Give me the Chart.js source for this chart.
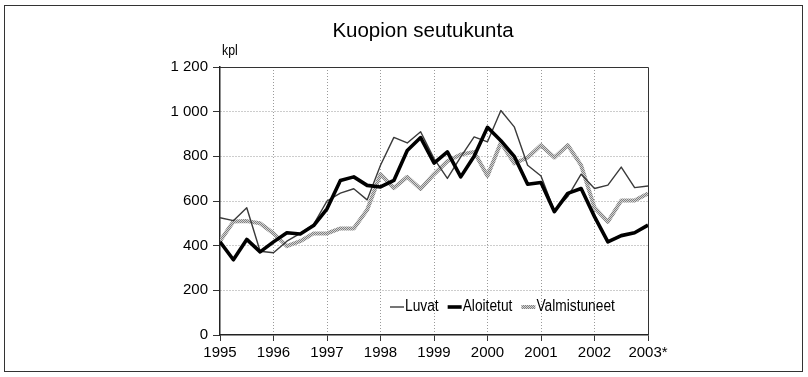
<!DOCTYPE html>
<html>
<head>
<meta charset="utf-8">
<script src="https://cdn.jsdelivr.net/npm/chart.js@4.4.1/dist/chart.umd.min.js"></script>
<style>
  html, body { margin: 0; padding: 0; background: #fff; }
  #wrap { position: relative; width: 808px; height: 377px; }
  #wrap canvas { position: absolute; left: 0; top: 0; }
  #frame { position: absolute; left: 4px; top: 5px; width: 799px; height: 367px; border: 1px solid #333; box-sizing: border-box; pointer-events: none; }
</style>
</head>
<body>
<div id="wrap">
  <canvas id="chart" width="808" height="377"></canvas>
  <div id="frame"></div>
</div>
<script>
const FONT = "'Liberation Sans', Arial, sans-serif";

// quarterly series, 1995 Q1 .. 2003 Q1
const startYear = 1995;
const tickYears = [1995, 1996, 1997, 1998, 1999, 2000, 2001, 2002, 2003];
const luvat = [525, 512, 570, 375, 368, 420, 455, 495, 600, 635, 655, 605, 760, 885, 860, 910,
               790, 701, 798, 887, 865, 1005, 932, 760, 712, 555, 620, 720, 656, 671, 752, 660, 667];
const aloitetut = [417, 337, 428, 372, 417, 458, 452, 490, 565, 692, 708, 670, 663, 692, 826, 884,
                   770, 820, 708, 800, 930, 870, 800, 675, 683, 552, 634, 656, 530, 417, 445, 458, 492];
const valmistuneet = [420, 508, 510, 500, 455, 398, 420, 455, 455, 477, 477, 560, 720, 658, 708, 654,
                      720, 778, 808, 820, 712, 862, 768, 795, 850, 795, 850, 760, 570, 507, 602, 602, 634];

const toPoints = arr => arr.map((v, i) => ({ x: startYear + i / 4, y: v }));

// grainy grey stroke for the completed-dwellings line
function hatch() {
    const c = document.createElement('canvas');
    c.width = 2; c.height = 2;
    const g = c.getContext('2d');
    g.fillStyle = '#d4d4d4'; g.fillRect(0, 0, 2, 2);
    g.fillStyle = '#808080'; g.fillRect(0, 0, 1, 1); g.fillRect(1, 1, 1, 1);
    return document.getElementById('chart').getContext('2d').createPattern(c, 'repeat');
}

const fmt = v => v >= 1000 ? Math.floor(v / 1000) + ' ' + String(v % 1000).padStart(3, '0') : String(v);

const decor = {
    id: 'decor',
    afterDatasetsDraw(chart) {
        const { ctx, chartArea: a } = chart;
        ctx.save();
        // top and right edges of the plot box
        ctx.strokeStyle = '#333';
        ctx.lineWidth = 1;
        ctx.beginPath();
        ctx.moveTo(a.left, a.top + 0.5);
        ctx.lineTo(a.right + 0.5, a.top + 0.5);
        ctx.lineTo(a.right + 0.5, a.bottom);
        ctx.stroke();

        // legend inside the plot, condensed text
        const squeeze = 0.86;
        let x = 390;
        const y = 307;
        ctx.font = '16px ' + FONT;
        ctx.textBaseline = 'middle';
        ctx.textAlign = 'left';
        [0, 1, 2].forEach(i => {
            const ds = chart.data.datasets[i];
            ctx.strokeStyle = ds.borderColor;
            ctx.lineWidth = ds.borderWidth;
            ctx.beginPath();
            ctx.moveTo(x, y);
            ctx.lineTo(x + 14, y);
            ctx.stroke();
            x += 15;
            ctx.save();
            ctx.translate(x, y);
            ctx.scale(squeeze, 1);
            ctx.fillStyle = '#000';
            ctx.fillText(ds.label, 0, 0);
            ctx.restore();
            x += ctx.measureText(ds.label).width * squeeze + 9;
        });

        // title and unit
        ctx.fillStyle = '#000';
        ctx.textAlign = 'center';
        ctx.textBaseline = 'alphabetic';
        ctx.font = '20.5px ' + FONT;
        ctx.fillText('Kuopion seutukunta', 423, 37);
        ctx.textAlign = 'left';
        ctx.save();
        ctx.translate(222, 55);
        ctx.scale(0.88, 1);
        ctx.font = '14px ' + FONT;
        ctx.fillText('kpl', 0, 0);
        ctx.restore();
        ctx.restore();
    }
};

new Chart(document.getElementById('chart'), {
    type: 'line',
    data: {
        datasets: [
            { label: 'Luvat', data: toPoints(luvat), borderColor: '#3a3a3a', borderWidth: 1.4, order: 1 },
            { label: 'Aloitetut', data: toPoints(aloitetut), borderColor: '#000', borderWidth: 3.6, order: 0 },
            { label: 'Valmistuneet', data: toPoints(valmistuneet), borderColor: hatch(), borderWidth: 4, order: 2 },
        ]
    },
    options: {
        responsive: false,
        animation: false,
        devicePixelRatio: 1,
        layout: { padding: { top: 67, right: 160, bottom: 0, left: 0 } },
        elements: {
            point: { radius: 0 },
            line: { tension: 0, fill: false, borderJoinStyle: 'round', borderCapStyle: 'butt' }
        },
        plugins: { legend: { display: false }, tooltip: { enabled: false } },
        scales: {
            x: {
                type: 'linear',
                min: 1995,
                max: 2003,
                afterFit: s => { s.height = 42; },
                afterBuildTicks: s => { s.ticks = tickYears.map(v => ({ value: v })); },
                ticks: {
                    color: '#000',
                    font: { family: FONT, size: 15 },
                    padding: 3,
                    maxRotation: 0,
                    callback: v => v === 2003 ? '2003*' : String(v)
                },
                grid: {
                    color: c => (c.tick && (c.tick.value === 1995 || c.tick.value === 2003)) ? 'transparent' : '#9a9a9a',
                    lineWidth: 1,
                    tickLength: 6,
                    tickColor: '#333',
                    tickWidth: 1
                },
                border: { color: '#222', width: 1.5, dash: [1, 2] }
            },
            y: {
                min: 0,
                max: 1200,
                afterFit: s => { s.width = 220; },
                ticks: {
                    stepSize: 200,
                    color: '#000',
                    font: { family: FONT, size: 15 },
                    padding: 5,
                    callback: fmt
                },
                grid: {
                    color: c => (c.tick && (c.tick.value === 0 || c.tick.value === 1200)) ? 'transparent' : '#9a9a9a',
                    lineWidth: 1,
                    tickLength: 7,
                    tickColor: '#333',
                    tickWidth: 1
                },
                border: { color: '#222', width: 1.5, dash: [1, 2] }
            }
        }
    },
    plugins: [decor]
});
</script>
</body>
</html>
